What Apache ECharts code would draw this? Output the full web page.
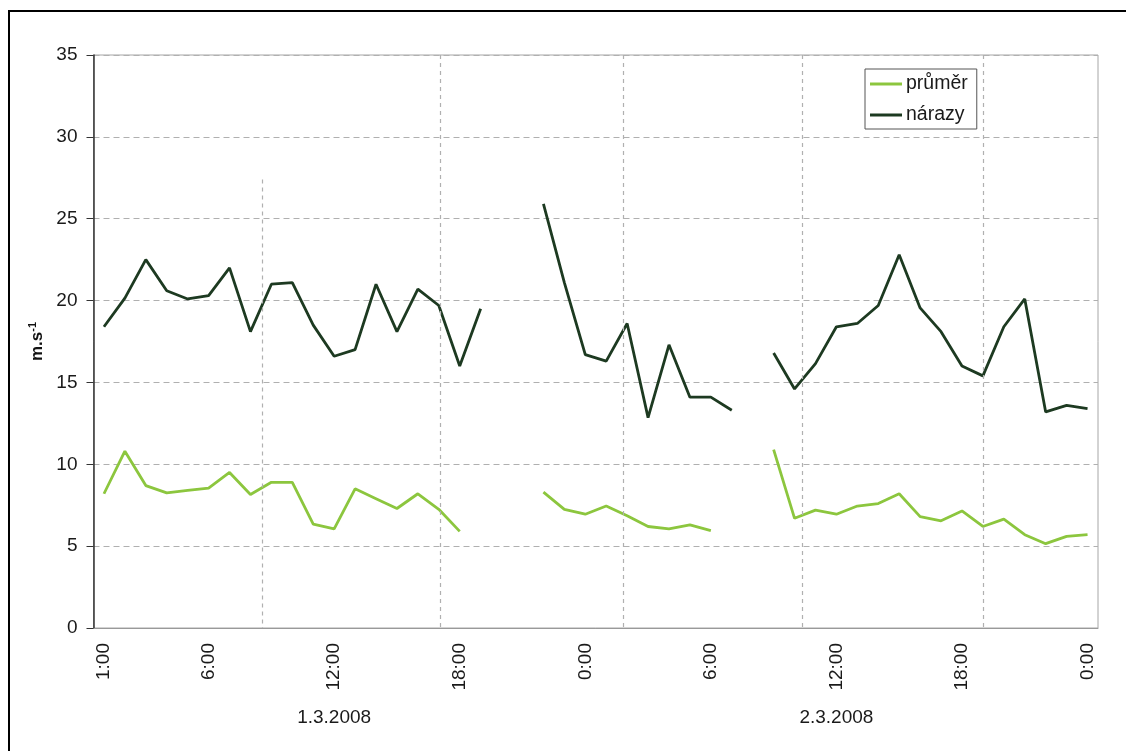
<!DOCTYPE html>
<html>
<head>
<meta charset="utf-8">
<title>Rychlost větru 1.–2.3.2008</title>
<script src="https://cdn.jsdelivr.net/npm/echarts@6/dist/echarts.min.js"></script>
<style>
  html, body { margin: 0; padding: 0; background: #fff; }
  #chart { width: 1126px; height: 751px; }
</style>
</head>
<body>
<div id="chart"></div>
<script>
// Hourly observations, 1.3.2008 1:00 – 3.3.2008 0:00
const hours = [
  '1:00','2:00','3:00','4:00','5:00','6:00','7:00','8:00','9:00','10:00','11:00','12:00',
  '13:00','14:00','15:00','16:00','17:00','18:00','19:00','20:00','21:00','22:00','23:00','0:00',
  '1:00','2:00','3:00','4:00','5:00','6:00','7:00','8:00','9:00','10:00','11:00','12:00',
  '13:00','14:00','15:00','16:00','17:00','18:00','19:00','20:00','21:00','22:00','23:00','0:00'
];

// Indices of the hours that carry a tick label
const tickLabelIdx = [0, 5, 11, 17, 23, 29, 35, 41, 47];

// Day labels and the hour index each one sits under
const dayLabels = ['1.3.2008', '2.3.2008'];
const dayLabelIdx = [11, 35];

// Mean wind speed (m/s); '-' marks missing hours
const prumer = [
  8.2, 10.8, 8.7, 8.25, 8.4, 8.55, 9.5, 8.15, 8.9, 8.9, 6.35, 6.05,
  8.5, 7.9, 7.3, 8.2, 7.25, 5.9, '-', '-', '-', 8.3, 7.25, 6.95,
  7.45, 6.85, 6.2, 6.05, 6.3, 5.95, '-', '-', 10.9, 6.7, 7.2, 6.95,
  7.45, 7.6, 8.2, 6.8, 6.55, 7.15, 6.2, 6.65, 5.7, 5.15, 5.6, 5.7
];

// Gusts (m/s)
const narazy = [
  18.4, 20.15, 22.5, 20.6, 20.1, 20.3, 22.0, 18.1, 21.0, 21.1, 18.5, 16.6,
  17.0, 21.0, 18.1, 20.7, 19.7, 16.0, 19.5, '-', '-', 25.9, 21.1, 16.7,
  16.3, 18.6, 12.85, 17.3, 14.1, 14.1, 13.3, '-', 16.8, 14.6, 16.15, 18.4,
  18.6, 19.7, 22.8, 19.55, 18.1, 16.0, 15.4, 18.4, 20.1, 13.2, 13.6, 13.4
];

// Vertical reference lines, in hour-slot units from the left edge of the plot
const vLines = [8.08, 16.56, 25.31, 33.87, 42.51];
const vLineFirstTop = 27.4;

const FONT = 'Liberation Sans, Arial, sans-serif';
const GREEN = '#8cc63e';
const DARK = '#1d3a21';

const chart = echarts.init(document.getElementById('chart'));

const vLineData = vLines.map((x, i) => i === 0
  ? [{ coord: [x, vLineFirstTop] }, { coord: [x, 0] }]
  : [{ coord: [x, 35] }, { coord: [x, 0] }]);

chart.setOption({
  animation: false,
  backgroundColor: '#fff',
  textStyle: { fontFamily: FONT },
  graphic: [{
    type: 'rect',
    shape: { x: 9, y: 11, width: 1200, height: 800 },
    style: { fill: 'none', stroke: '#000', lineWidth: 2 },
    silent: true, z: 100
  }],
  grid: {
    left: 93.5, right: 28, top: 55, bottom: 123,
    show: true, borderColor: '#a6a6a6', borderWidth: 1, backgroundColor: 'transparent'
  },
  legend: {
    left: 865, top: 69,
    orient: 'vertical',
    data: ['průměr', 'nárazy'],
    icon: 'rect',
    itemWidth: 32, itemHeight: 3,
    itemGap: 11,
    padding: [5, 9, 4, 5],
    borderColor: '#555', borderWidth: 1,
    backgroundColor: '#fff',
    textStyle: { fontSize: 19.5, color: '#1a1a1a', fontFamily: FONT, padding: [0, 0, 0, -1] }
  },
  xAxis: [{
    type: 'category',
    data: hours,
    boundaryGap: true,
    axisLine: { lineStyle: { color: '#999', width: 1 } },
    axisTick: { show: false },
    splitLine: { show: false },
    axisLabel: {
      rotate: 90,
      margin: 15,
      fontSize: 19,
      color: '#1a1a1a',
      fontFamily: FONT,
      interval: (idx) => tickLabelIdx.includes(idx)
    }
  }, {
    type: 'category',
    data: hours,
    boundaryGap: true,
    position: 'bottom',
    offset: 80,
    axisLine: { show: false },
    axisTick: { show: false },
    splitLine: { show: false },
    axisLabel: {
      margin: 0,
      fontSize: 19,
      color: '#1a1a1a',
      fontFamily: FONT,
      interval: (idx) => dayLabelIdx.includes(idx),
      formatter: (val, idx) => {
        const k = dayLabelIdx.indexOf(idx);
        return k >= 0 ? dayLabels[k] : '';
      }
    }
  }, {
    type: 'value',
    min: 0, max: hours.length,
    show: false
  }],
  yAxis: {
    type: 'value',
    min: 0, max: 35, interval: 5,
    name: '{m|m.s}{s|-1}',
    nameLocation: 'middle',
    nameGap: 46,
    nameTextStyle: {
      rich: {
        m: { fontSize: 17, fontWeight: 'bold', color: '#111', fontFamily: FONT },
        s: { fontSize: 11, fontWeight: 'bold', color: '#111', fontFamily: FONT, verticalAlign: 'top', padding: [0, 0, 8, 0] }
      }
    },
    axisLine: { show: true, lineStyle: { color: '#333', width: 1.5 } },
    axisTick: { show: true, length: 7, lineStyle: { color: '#333' } },
    axisLabel: { margin: 16, fontSize: 19, color: '#1a1a1a', fontFamily: FONT },
    splitLine: { lineStyle: { color: '#b0b0b0', type: [6, 4], width: 1 } }
  },
  series: [{
    name: 'průměr',
    type: 'line',
    data: prumer,
    xAxisIndex: 0,
    showSymbol: false, symbol: 'none',
    connectNulls: false,
    lineStyle: { color: GREEN, width: 2.8 },
    itemStyle: { color: GREEN },
    z: 3
  }, {
    name: 'nárazy',
    type: 'line',
    data: narazy,
    xAxisIndex: 0,
    showSymbol: false, symbol: 'none',
    connectNulls: false,
    lineStyle: { color: DARK, width: 2.8 },
    itemStyle: { color: DARK },
    z: 3
  }, {
    name: 'vgrid',
    type: 'line',
    xAxisIndex: 2,
    data: [],
    silent: true,
    z: 1,
    markLine: {
      silent: true,
      symbol: 'none',
      label: { show: false },
      lineStyle: { color: '#b0b0b0', type: [4, 4], width: 1.2 },
      emphasis: { disabled: true },
      data: vLineData
    }
  }]
});
</script>
</body>
</html>
